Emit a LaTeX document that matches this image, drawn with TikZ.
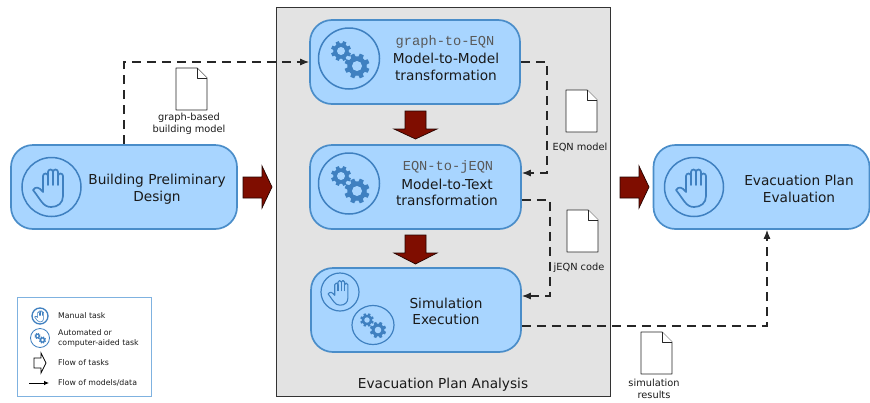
\documentclass[tikz,border=0pt]{standalone}
\usepackage{fontspec}
\setmainfont{DejaVu Sans}
\newfontfamily\codefont{Liberation Mono}
\usetikzlibrary{arrows.meta,calc,shapes.geometric}
\definecolor{boxfill}{HTML}{A8D5FF}
\definecolor{boxline}{HTML}{4A8DC9}
\definecolor{iconline}{HTML}{3F80C0}
\definecolor{darkred}{HTML}{7F0D00}
\definecolor{panel}{HTML}{E3E3E3}
\definecolor{legline}{HTML}{7FB2E0}
\definecolor{txt}{HTML}{1A1A1A}
\tikzset{
  taskbox/.style={draw=boxline,fill=boxfill,line width=1.7pt,rounded corners=22pt,inner sep=0pt},
  tasklabel/.style={font=\fontsize{13.7}{16.5}\selectfont,align=center,text=txt,inner sep=0pt},
  codelabel/.style={font=\fontsize{13.7}{15}\selectfont\codefont,text=black!65,inner sep=0pt},
  small/.style={font=\fontsize{9.8}{12}\selectfont,align=center,text=txt,inner sep=0pt},
  legtext/.style={font=\fontsize{7.8}{10}\selectfont,align=left,anchor=west,text=txt,inner sep=0pt},
  flowline/.style={draw=black!85,line width=1.1pt,dash pattern=on 9pt off 6pt,-{Latex[length=9pt,width=7pt]}},
  redarrow/.style={fill=darkred,draw=black!70!darkred,line width=.7pt},
  docshape/.style={fill=white,draw=black!85,line width=.9pt,line join=round},
}
% x y scale line-width : hand glyph, drawn in a unit frame with y pointing up
\newcommand\handicon[4]{%
\begin{scope}[shift={(#1,#2)},x=#3pt,y=#3pt,draw=iconline,line width=#4pt,line cap=round,line join=round]
\draw (-18,-3) .. controls (-15,1) and (-12,0) .. (-8,-5)
 -- (-8,11) arc[start angle=180,end angle=0,x radius=2.5,y radius=2.5]
 -- (-3,15) arc[start angle=180,end angle=0,x radius=2.5,y radius=2.5]
 -- (2,15) arc[start angle=180,end angle=0,x radius=2.5,y radius=2.5]
 -- (7,11) arc[start angle=180,end angle=0,x radius=2.5,y radius=2.5]
 -- (12,-9) .. controls (12,-16) and (7,-20) .. (0,-20)
 .. controls (-8,-20) and (-10,-13) .. (-18,-3) -- cycle;
\draw (-3,11) -- (-3,2) (2,15) -- (2,2) (7,11) -- (7,2);
\end{scope}}
% x y outer radius hole colour : one gear
\newcommand\gearicon[4]{%
\begin{scope}[shift={(#1,#2)},x=1pt,y=1pt]
\fill[iconline] (0,0) circle ({#3*0.78});
\foreach \a in {0,45,...,315}{
 \fill[iconline,rotate=\a+22.5] ({-#3*0.2},{#3*0.6}) -- ({-#3*0.17},{#3}) -- ({#3*0.17},{#3}) -- ({#3*0.2},{#3*0.6}) -- cycle;}
\fill[#4] (0,0) circle ({#3*0.4});
\end{scope}}
% x y : white sheet with a folded corner, 31 x 42
\newcommand\docicon[2]{%
\begin{scope}[shift={(#1,#2)}]
\draw[docshape] (0,0) -- (21,0) -- (31,10) -- (31,42) -- (0,42) -- cycle;
\draw[docshape] (21,0) -- (21,10) -- (31,10);
\end{scope}}
\begin{document}
\begin{tikzpicture}[x=1pt,y=-1pt]
\useasboundingbox (0,0) rectangle (870,402);
% panel
\node[draw=black!80,fill=panel,line width=.8pt,minimum width=334pt,minimum height=389pt,inner sep=0pt] (panel) at (443,201.5) {};
\node[font=\fontsize{13.7}{15}\selectfont,text=txt,inner sep=0pt] (paneltitle) at (443,385) {Evacuation Plan Analysis};
% task boxes
\node[taskbox,minimum width=226pt,minimum height=84pt] (design) at (124,187) {};
\node[taskbox,minimum width=210pt,minimum height=84pt] (m2m) at (415,62) {};
\node[taskbox,minimum width=211pt,minimum height=84pt] (m2t) at (415.5,187) {};
\node[taskbox,minimum width=210pt,minimum height=84pt] (sim) at (416,310) {};
\node[taskbox,minimum width=216pt,minimum height=84pt] (eval) at (761.5,187) {};
% box texts
\node[tasklabel] (designt) at (157,189) {Building Preliminary\\Design};
\node[codelabel] (m2mc) at (445,42) {graph-to-EQN};
\node[tasklabel] (m2mt) at (446,67) {Model-to-Model\\transformation};
\node[codelabel] (m2tc) at (448,167) {EQN-to-jEQN};
\node[tasklabel] (m2tt) at (447,192.5) {Model-to-Text\\transformation};
\node[tasklabel] (simt) at (446,311.5) {Simulation\\Execution};
\node[tasklabel] (evalt) at (799,189) {Evacuation Plan\\Evaluation};
% icon circles
\node[circle,draw=iconline,line width=1.5pt,minimum size=59pt,inner sep=0pt] (ic1) at (51.5,187) {};
\handicon{51}{187}{1}{1.7}
\node[circle,draw=iconline,line width=1.5pt,minimum size=61pt,inner sep=0pt] (ic2) at (349,58.5) {};
\gearicon{341}{51}{10}{boxfill}\gearicon{357}{66}{12.5}{boxfill}
\node[circle,draw=iconline,line width=1.5pt,minimum size=61pt,inner sep=0pt] (ic3) at (349,183.5) {};
\gearicon{341}{176}{10}{boxfill}\gearicon{357}{191}{12.5}{boxfill}
\node[circle,draw=iconline,line width=1.2pt,minimum size=38pt,inner sep=0pt] (ic4) at (340,292) {};
\handicon{340}{292}{.66}{1.1}
\node[ellipse,draw=iconline,line width=1.2pt,minimum width=42pt,minimum height=39pt,inner sep=0pt] (ic5) at (373,325) {};
\gearicon{367}{320}{6.8}{boxfill}\gearicon{378}{330}{8.2}{boxfill}
\node[circle,draw=iconline,line width=1.5pt,minimum size=59pt,inner sep=0pt] (ic6) at (694,187) {};
\handicon{694}{187}{1}{1.7}
% red arrows
\draw[redarrow] (243,177) -- (262,177) -- (262,166) -- (272,187) -- (262,208) -- (262,198) -- (243,198) -- cycle;
\draw[redarrow] (620,177) -- (639,177) -- (639,166) -- (649,187) -- (639,208) -- (639,198) -- (620,198) -- cycle;
\draw[redarrow] (405,111) -- (426,111) -- (426,129) -- (437,129) -- (415.5,139) -- (394,129) -- (405,129) -- cycle;
\draw[redarrow] (405,235) -- (426,235) -- (426,253) -- (437,253) -- (415.5,264) -- (394,253) -- (405,253) -- cycle;
% data flows
\coordinate (f1) at (124,62);
\coordinate (f2a) at (547,62);\coordinate (f2b) at (547,173);
\coordinate (f3a) at (550,200);\coordinate (f3b) at (550,296);
\coordinate (f4) at (767,326);
\draw[flowline] (design.north -| f1) -- (f1) -- (m2m.west |- f1);
\draw[flowline] (m2m.east |- f2a) -- (f2a) -- (f2b) -- (m2t.east |- f2b);
\draw[flowline] (m2t.east |- f3a) -- (f3a) -- (f3b) -- (sim.east |- f3b);
\draw[flowline] (sim.east |- f4) -- (f4) -- (eval.south -| f4);
% documents
\docicon{176}{68}\docicon{566}{90}\docicon{567}{210}\docicon{641}{332}
\node[small] (l1) at (189,124) {graph-based\\building model};
\node[small] (l2) at (580,147) {EQN model};
\node[small] (l3) at (579,268) {jEQN code};
\node[small] (l4) at (654,389) {simulation\\results};
% legend
\node[draw=legline,fill=white,line width=1pt,minimum width=134pt,minimum height=99pt,inner sep=0pt] (legend) at (84,346.5) {};
\node[circle,draw=iconline,line width=1.3pt,minimum size=16pt,inner sep=0pt] (lic1) at (40,316) {};
\handicon{40}{316}{.3}{.6}
\node[circle,draw=iconline,line width=.8pt,minimum size=19pt,inner sep=0pt] (lic2) at (40,338) {};
\gearicon{37.5}{336}{3}{white}\gearicon{42.5}{340}{3.5}{white}
\draw[fill=white,draw=black,line width=.8pt] (34,358) -- (41,358) -- (41,353) -- (46,363) -- (41,373) -- (41,368) -- (34,368) -- cycle;
\coordinate (la) at (29,383);\coordinate (lb) at (49,383);
\draw[draw=black,line width=.8pt,-{Latex[length=5pt,width=4.5pt]}] (la) -- (lb);
\node[legtext] (t1) at (58,316) {Manual task};
\node[legtext] (t2) at (58,338) {Automated or\\computer-aided task};
\node[legtext] (t3) at (58,363) {Flow of tasks};
\node[legtext] (t4) at (58,383) {Flow of models/data};
\end{tikzpicture}
\end{document}
